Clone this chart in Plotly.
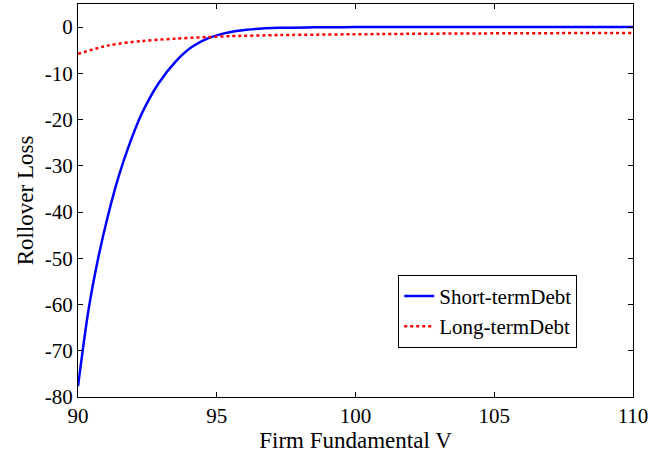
import plotly.graph_objects as go

# Short-term debt
v_short = [90, 90.38, 90.74, 91.10, 91.46, 91.82, 92.30, 92.90, 93.50, 94.10, 94.70, 95.30, 96.08, 97.28, 98.5, 100, 105, 110]
loss_short = [-77.7, -61.1, -49.6, -40.3, -32.4, -25.9, -18.7, -12.2, -7.55, -4.3, -2.4, -1.3, -0.57, -0.15, -0.05, 0, 0, 0]

# Long-term debt
v_long = [90, 91.1, 92.3, 93.5, 94.7, 95.5, 97.3, 100.9, 104.5, 110]
loss_long = [-5.8, -3.95, -3.0, -2.5, -2.15, -1.95, -1.72, -1.5, -1.36, -1.25]

x_ticks = [90, 95, 100, 105, 110]
y_ticks = [-80, -70, -60, -50, -40, -30, -20, -10, 0]

FONT = "Liberation Serif"

fig = go.Figure()
fig.add_trace(go.Scatter(x=v_short, y=loss_short, mode="lines", name="Short-termDebt",
                         line=dict(color="#0000ff", width=2.5, shape="spline", smoothing=0.8)))
fig.add_trace(go.Scatter(x=v_long, y=loss_long, mode="lines", name="Long-termDebt",
                         line=dict(color="#ff0000", width=2.5, dash="dot", shape="spline", smoothing=0.8)))

axis_common = dict(showline=True, linecolor="black", linewidth=1, mirror="ticks",
                   ticks="inside", ticklen=5, tickcolor="black", showgrid=False, zeroline=False,
                   tickfont=dict(family=FONT, size=21, color="black"))

fig.update_layout(
    width=652, height=454,
    margin=dict(l=78, r=19, t=4, b=57),
    paper_bgcolor="white", plot_bgcolor="white",
    font=dict(family=FONT, color="black"),
    xaxis=dict(range=[90, 110], tickvals=x_ticks, ticktext=[str(t) for t in x_ticks],
               title=dict(text="Firm Fundamental V", font=dict(family=FONT, size=23), standoff=0),
               **axis_common),
    yaxis=dict(range=[-80, 5], tickvals=y_ticks, ticktext=[str(t) for t in y_ticks],
               title=dict(text="Rollover Loss", font=dict(family=FONT, size=23), standoff=4),
               **axis_common),
    legend=dict(x=0.577, y=0.311, xanchor="left", yanchor="top",
                bgcolor="white", bordercolor="black", borderwidth=1,
                font=dict(family=FONT, size=21, color="black"), itemwidth=30,
                tracegroupgap=0),
    showlegend=True,
)

fig.write_html("out.html")
